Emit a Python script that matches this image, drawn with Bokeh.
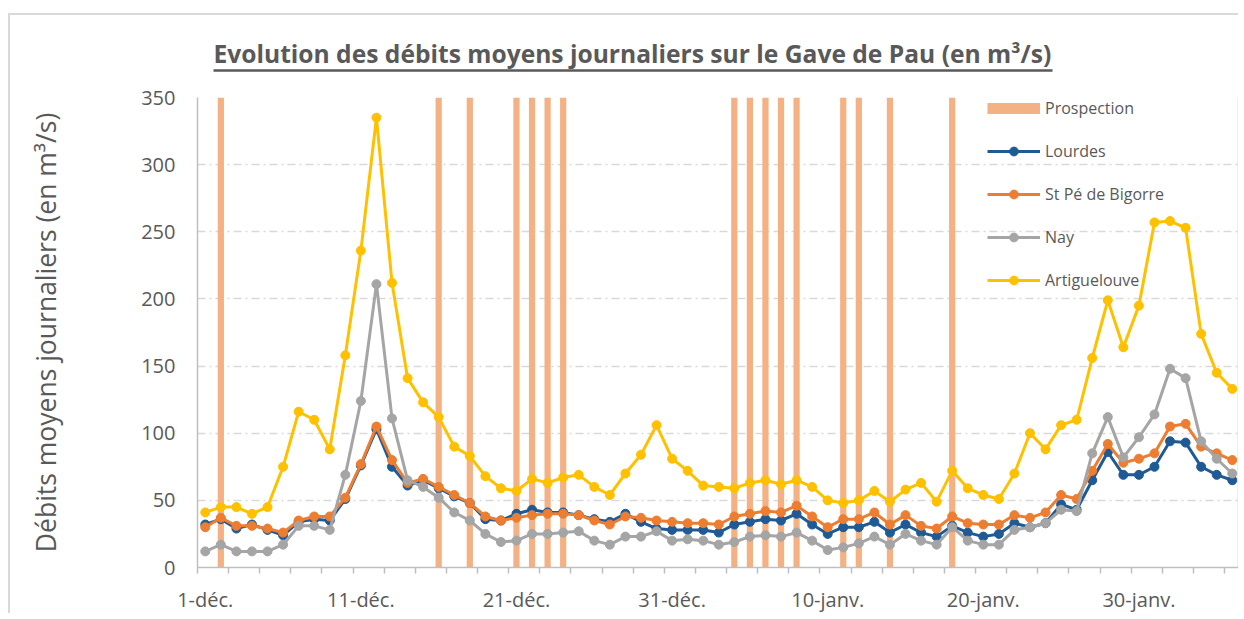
from bokeh.plotting import figure
from bokeh.models import FixedTicker, Span, Legend, LegendItem, Range1d, LinearAxis
from bokeh.embed import file_html
from bokeh.resources import INLINE

# ---- data ----
tick_days = [0, 10, 20, 30, 40, 50, 60]
tick_labels = ["1-déc.", "11-déc.", "21-déc.", "31-déc.", "10-janv.", "20-janv.", "30-janv."]

lourdes = [32, 36, 29, 32, 28, 24, 34, 36, 35, 51, 76, 103, 75, 61, 65, 59, 53, 48, 36, 35,
           40, 43, 41, 41, 39, 36, 34, 40, 34, 29, 28, 28, 28, 26, 32, 34, 36, 35, 40, 32,
           25, 30, 30, 34, 26, 32, 26, 23, 31, 26, 23, 25, 33, 30, 33, 47, 43, 65, 86, 69,
           69, 75, 94, 93, 75, 69, 65]
st_pe = [30, 37, 31, 31, 29, 26, 35, 38, 38, 52, 77, 105, 80, 63, 66, 60, 54, 48, 38, 35,
         37, 39, 40, 40, 39, 35, 32, 38, 37, 35, 34, 33, 33, 32, 38, 40, 42, 41, 46, 38,
         30, 36, 36, 41, 32, 39, 31, 29, 38, 33, 32, 32, 39, 37, 41, 54, 51, 72, 92, 78,
         81, 85, 105, 107, 90, 85, 80]
nay = [12, 17, 12, 12, 12, 17, 31, 31, 28, 69, 124, 211, 111, 65, 60, 52, 41, 35, 25, 19,
       20, 25, 25, 26, 27, 20, 17, 23, 23, 27, 20, 21, 20, 17, 19, 23, 24, 23, 26, 20,
       13, 15, 18, 23, 17, 25, 20, 17, 30, 20, 17, 17, 28, 30, 33, 43, 42, 85, 112, 82,
       97, 114, 148, 141, 94, 81, 70]
artiguelouve = [41, 45, 45, 40, 45, 75, 116, 110, 88, 158, 236, 335, 212, 141, 123, 112, 90, 83, 68, 59,
                57, 66, 63, 67, 69, 60, 54, 70, 84, 106, 81, 72, 61, 60, 59, 63, 65, 62, 65, 60,
                50, 48, 50, 57, 49, 58, 63, 49, 72, 59, 54, 51, 70, 100, 88, 106, 110, 156, 199, 164,
                195, 257, 258, 253, 174, 145, 133]
prospection_days = [1, 15, 17, 20, 21, 22, 23, 34, 35, 36, 37, 38, 41, 42, 44, 48]
prospection_value = 350

series_names = ["Lourdes", "St Pé de Bigorre", "Nay", "Artiguelouve"]
series_values = [lourdes, st_pe, nay, artiguelouve]
series_colors = ["#1F5A94", "#ED7D31", "#A5A5A5", "#FFC000"]
prospection_color = "#F4B183"

FONT = "Open Sans"
TXT = "#595959"
AXIS = "#BFBFBF"
BORDER = "#D9D9D9"

# ---- layout geometry (pixels) ----
W, H = 1230, 600
MB_LEFT, MB_RIGHT, MB_TOP, MB_BOTTOM = 187, 2, 82, 48
frame_w = W - MB_LEFT - MB_RIGHT
x_end = 66.9
px_per_day = frame_w / x_end

n = len(lourdes)
xs = [i + 0.5 for i in range(n)]

p = figure(width=W, height=H, output_backend="svg", toolbar_location=None,
           x_range=Range1d(0, x_end), y_range=Range1d(0, 350),
           min_border_left=MB_LEFT, min_border_right=MB_RIGHT,
           min_border_top=MB_TOP, min_border_bottom=MB_BOTTOM)
p.margin = (13, 0, 0, 8)
p.styles = {"border-top": "2px solid " + BORDER, "border-left": "2px solid " + BORDER}
p.outline_line_color = None
p.background_fill_color = "white"
p.border_fill_color = "white"

# title
p.title.text = "Evolution des débits moyens journaliers sur le Gave de Pau (en m³/s)"
p.title.text_font = FONT
p.title.text_font_size = "24.6px"
p.title.text_font_style = "bold"
p.title.text_color = TXT
p.title.align = "left"
p.title.offset = 16
p.title.standoff = 2

# grid
p.xgrid.visible = False
p.ygrid.grid_line_color = "#D9D9D9"
p.ygrid.grid_line_dash = "8 4 2 4"
p.ygrid.grid_line_width = 1.3

# y axis
ya = p.left[0]
ya.ticker = FixedTicker(ticks=list(range(0, 351, 50)))
ya.major_tick_out = 0
ya.major_tick_in = 0
ya.minor_tick_out = 0
ya.minor_tick_in = 0
ya.axis_line_color = AXIS
ya.axis_line_width = 1.5
ya.major_label_text_font = FONT
ya.major_label_text_font_size = "20px"
ya.major_label_text_color = TXT
ya.major_label_standoff = 22
ya.axis_label = "Débits moyens journaliers (en m³/s)"
ya.axis_label_text_font = FONT
ya.axis_label_text_font_size = "26.5px"
ya.axis_label_text_font_style = "normal"
ya.axis_label_text_color = TXT
ya.axis_label_standoff = 74

# x axis
xa = p.below[0]
xa.ticker = FixedTicker(ticks=[d + 0.5 for d in tick_days], minor_ticks=list(range(0, 67, 2)))
xa.major_label_overrides = {d + 0.5: lab for d, lab in zip(tick_days, tick_labels)}
xa.major_tick_out = 0
xa.major_tick_in = 0
xa.minor_tick_out = 6
xa.minor_tick_in = 0
xa.minor_tick_line_color = AXIS
xa.minor_tick_line_width = 1.5
xa.axis_line_color = AXIS
xa.axis_line_width = 1.5
xa.major_label_text_font = FONT
xa.major_label_text_font_size = "20px"
xa.major_label_text_color = TXT
xa.major_label_standoff = 12

# spacer + title underline (drawn as axis lines above the frame)
spacer = LinearAxis(ticker=FixedTicker(ticks=[1]), axis_line_color=None,
                    major_label_overrides={1: ""}, major_label_text_font_size="1px",
                    major_label_text_alpha=0, major_label_standoff=0,
                    major_tick_out=27, major_tick_in=0, major_tick_line_color=None,
                    minor_tick_out=0, minor_tick_in=0, minor_tick_line_color=None)
p.add_layout(spacer, "above")
ul_left_px, ul_right_px = 16, 855
underline = LinearAxis(ticker=FixedTicker(ticks=[]), axis_line_color=TXT, axis_line_width=2.4,
                       bounds=(ul_left_px / px_per_day, ul_right_px / px_per_day),
                       major_tick_out=0, major_tick_in=0, major_tick_line_color=None,
                       minor_tick_out=0, minor_tick_in=0, minor_tick_line_color=None)
p.add_layout(underline, "above")

# right side line (secondary axis line)
p.add_layout(Span(location=x_end, dimension="height", line_color=AXIS, line_width=1.5))

# prospection bars
p.vbar(x=[d + 0.5 for d in prospection_days], top=[prospection_value] * len(prospection_days),
       bottom=0, width=0.4, fill_color=prospection_color, line_color=None)

items = []
dummy = p.line(x=[float("nan")], y=[float("nan")], line_color=prospection_color,
               line_width=11, line_cap="butt")
items.append(LegendItem(label="Prospection", renderers=[dummy]))
for name, vals, col in zip(series_names, series_values, series_colors):
    lr = p.line(x=xs, y=vals, line_color=col, line_width=3)
    sr = p.scatter(x=xs, y=vals, size=9, fill_color=col, line_color=col)
    items.append(LegendItem(label=name, renderers=[lr, sr]))

legend = Legend(items=items, location=(790, 276))
legend.glyph_width = 53
legend.glyph_height = 22
legend.label_height = 22
legend.spacing = 21
legend.padding = 0
legend.margin = 0
legend.border_line_color = None
legend.background_fill_alpha = 0
legend.label_text_font = FONT
legend.label_text_font_size = "16px"
legend.label_text_color = TXT
legend.label_standoff = 5
p.add_layout(legend)

open("out.html", "w").write(file_html(p, INLINE))
